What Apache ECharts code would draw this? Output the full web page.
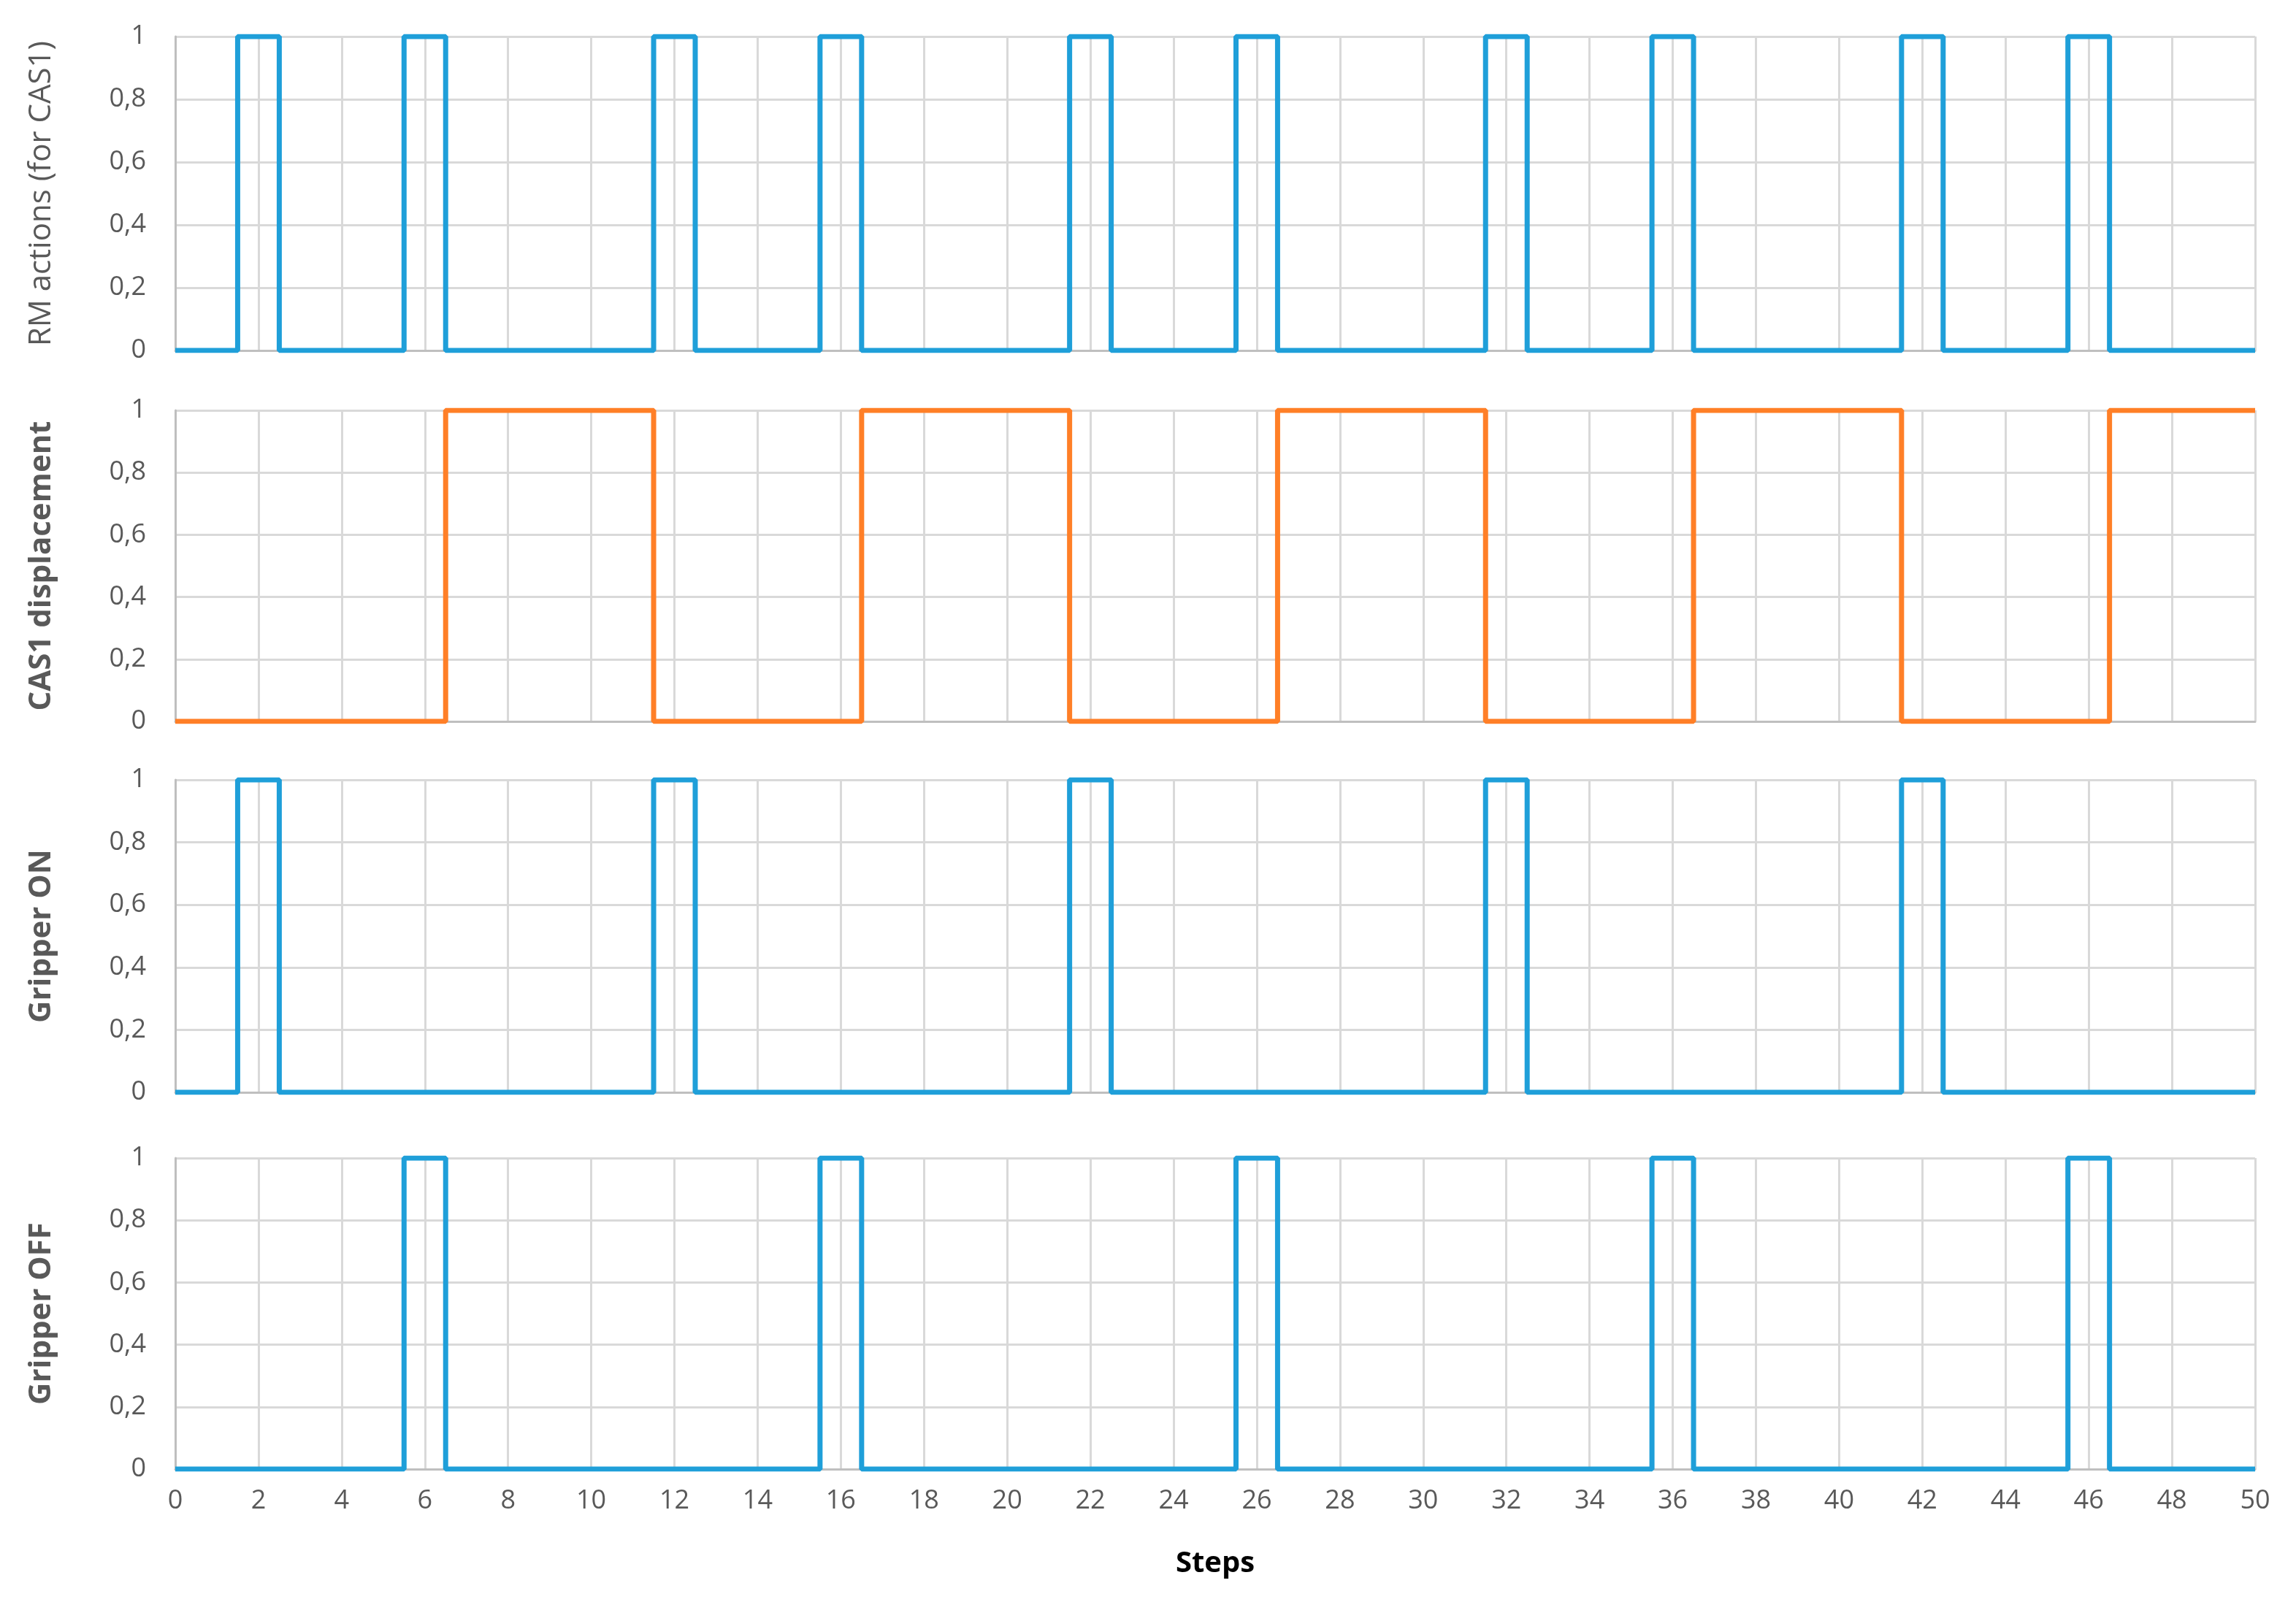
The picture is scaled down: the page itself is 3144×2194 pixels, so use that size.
<!DOCTYPE html>
<html>
<head>
<meta charset="utf-8">
<script src="https://cdn.jsdelivr.net/npm/echarts@6/dist/echarts.min.js"></script>
<style>
  html, body { margin: 0; padding: 0; background: #fff; }
  #chart { width: 3144px; height: 2194px; }
</style>
</head>
<body>
<div id="chart"></div>
<script>
// steps 0..50, values switch halfway between integer steps
var steps = [];
for (var i = 0; i <= 50; i++) steps.push(i);

var rmOnSteps = [2, 6, 12, 16, 22, 26, 32, 36, 42, 46];
var gripOnSteps = [2, 12, 22, 32, 42];
var gripOffSteps = [6, 16, 26, 36, 46];
// CAS1 displacement is 1 on these ranges [from, to]
var cas1Ranges = [[7, 11], [17, 21], [27, 31], [37, 41], [47, 50]];

var panelNames = ["RM actions (for CAS1)", "CAS1 displacement", "Gripper ON", "Gripper OFF"];
var panelColors = ["#1f9fd9", "#ff7f27", "#1f9fd9", "#1f9fd9"];

function pulses(onList) {
  return steps.map(function (s) { return [s, onList.indexOf(s) >= 0 ? 1 : 0]; });
}
function ranges(list) {
  return steps.map(function (s) {
    var v = 0;
    list.forEach(function (r) { if (s >= r[0] && s <= r[1]) v = 1; });
    return [s, v];
  });
}

var seriesData = [pulses(rmOnSteps), ranges(cas1Ranges), pulses(gripOnSteps), pulses(gripOffSteps)];

var tops = [50, 562, 1068, 1586];
var bottoms = [480, 988, 1496, 2012];

var grids = [], xAxes = [], yAxes = [], series = [];
for (var p = 0; p < 4; p++) {
  grids.push({ left: 240, right: 56, top: tops[p], height: bottoms[p] - tops[p] });
  xAxes.push({
    type: "value", gridIndex: p, min: 0, max: 50, interval: 2,
    axisLine: { show: true, lineStyle: { color: "#bfbfbf", width: 3 } },
    axisTick: { show: false },
    axisLabel: { show: p === 3, fontSize: 36, color: "#595959", margin: 26, fontFamily: "Open Sans" },
    splitLine: { show: true, lineStyle: { color: "#d9d9d9", width: 3 } },
    name: p === 3 ? "Steps" : "",
    nameLocation: "middle", nameGap: 110,
    nameTextStyle: { fontSize: 40, fontWeight: "bold", color: "#000", fontFamily: "Open Sans" }
  });
  yAxes.push({
    type: "value", gridIndex: p, min: 0, max: 1, interval: 0.2,
    axisLine: { show: true, lineStyle: { color: "#bfbfbf", width: 3 } },
    axisTick: { show: false },
    axisLabel: {
      fontSize: 36, color: "#595959", margin: 40, fontFamily: "Open Sans",
      formatter: function (v) { return String(+v.toFixed(1)).replace(".", ","); }
    },
    splitLine: { show: true, lineStyle: { color: "#d9d9d9", width: 3 } },
    name: panelNames[p], nameLocation: "middle", nameGap: 162,
    nameTextStyle: {
      fontSize: 42, fontWeight: p === 0 ? "normal" : "bold",
      color: "#595959", fontFamily: "Open Sans"
    }
  });
  series.push({
    type: "line", xAxisIndex: p, yAxisIndex: p, step: "middle",
    data: seriesData[p], symbol: "none", animation: false,
    lineStyle: { color: panelColors[p], width: 7 }
  });
}

var chart = echarts.init(document.getElementById("chart"));
chart.setOption({ backgroundColor: "#fff", grid: grids, xAxis: xAxes, yAxis: yAxes, series: series });
</script>
</body>
</html>
